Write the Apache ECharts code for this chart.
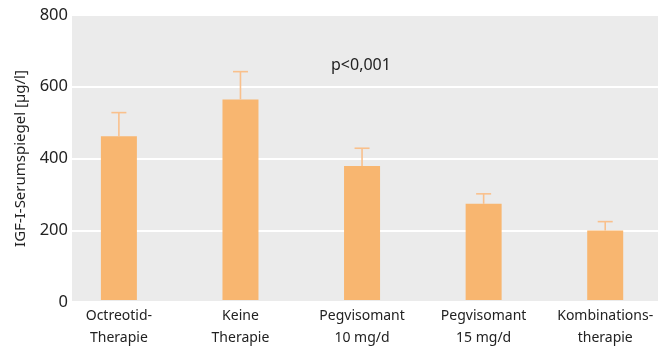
<!DOCTYPE html>
<html><head><meta charset="utf-8">
<script src="https://cdn.jsdelivr.net/npm/echarts@6/dist/echarts.min.js"></script>
<style>html,body{margin:0;padding:0;background:#fff}#c{width:666px;height:349px}</style>
</head><body><div id="c"></div>
<script>
const categories = ['Octreotid-\nTherapie', 'Keine\nTherapie', 'Pegvisomant\n10 mg/d', 'Pegvisomant\n15 mg/d', 'Kombinations-\ntherapie'];
const meanValues = [460, 563, 376, 270, 195];
const errorTops = [526, 641, 426, 298, 220];
const yTicks = [0, 200, 400, 600, 800];

const chart = echarts.init(document.getElementById('c'), null, {renderer: 'canvas'});
const font = '"Noto Sans", sans-serif';
chart.setOption({
  animation: false,
  textStyle: {fontFamily: font},
  grid: [
    {left: 72, right: 8, top: 15, bottom: 47, show: true, backgroundColor: '#ebebeb', borderWidth: 0},
    {left: 58.1, width: 608.75, top: 15, bottom: 47}
  ],
  xAxis: [
    {gridIndex: 0, type: 'value', show: false, min: 0, max: 1},
    {gridIndex: 1, type: 'category', data: categories,
     axisLine: {show: false}, axisTick: {show: false},
     axisLabel: {interval: 0, fontSize: 14, lineHeight: 22, color: '#222', margin: 5, fontFamily: font}}
  ],
  yAxis: [
    {gridIndex: 0, type: 'value', min: yTicks[0], max: yTicks[yTicks.length-1], interval: 200,
     axisLine: {show: false}, axisTick: {show: false},
     splitLine: {lineStyle: {color: '#ffffff', width: 2}},
     axisLabel: {fontSize: 16.5, color: '#222', margin: 4, fontFamily: font},
     name: 'IGF-I-Serumspiegel [µg/l]', nameLocation: 'middle', nameGap: 44,
     nameTextStyle: {fontSize: 15, color: '#222', fontFamily: font}},
    {gridIndex: 1, type: 'value', min: 0, max: 800, show: false}
  ],
  graphic: [{type: 'text', left: 331, top: 57, style: {text: 'p<0,001', fontSize: 16, fill: '#222', fontFamily: font}}],
  series: [
    {type: 'bar', xAxisIndex: 1, yAxisIndex: 1, data: meanValues, barWidth: 36,
     itemStyle: {color: '#f8b670'}},
    {type: 'custom', xAxisIndex: 1, yAxisIndex: 1,
     data: meanValues.map((v, i) => [i, v, errorTops[i]]),
     renderItem: function (params, api) {
       const top = api.coord([api.value(0), api.value(2)]);
       const bot = api.coord([api.value(0), api.value(1)]);
       const hw = 7.5;
       const st = {stroke: '#f9c08c', lineWidth: 1.6};
       return {type: 'group', children: [
         {type: 'line', shape: {x1: top[0], y1: top[1], x2: bot[0], y2: bot[1]}, style: st},
         {type: 'line', shape: {x1: top[0]-hw, y1: top[1], x2: top[0]+hw, y2: top[1]}, style: st}
       ]};
     }, z: 3}
  ]
});
</script></body></html>
